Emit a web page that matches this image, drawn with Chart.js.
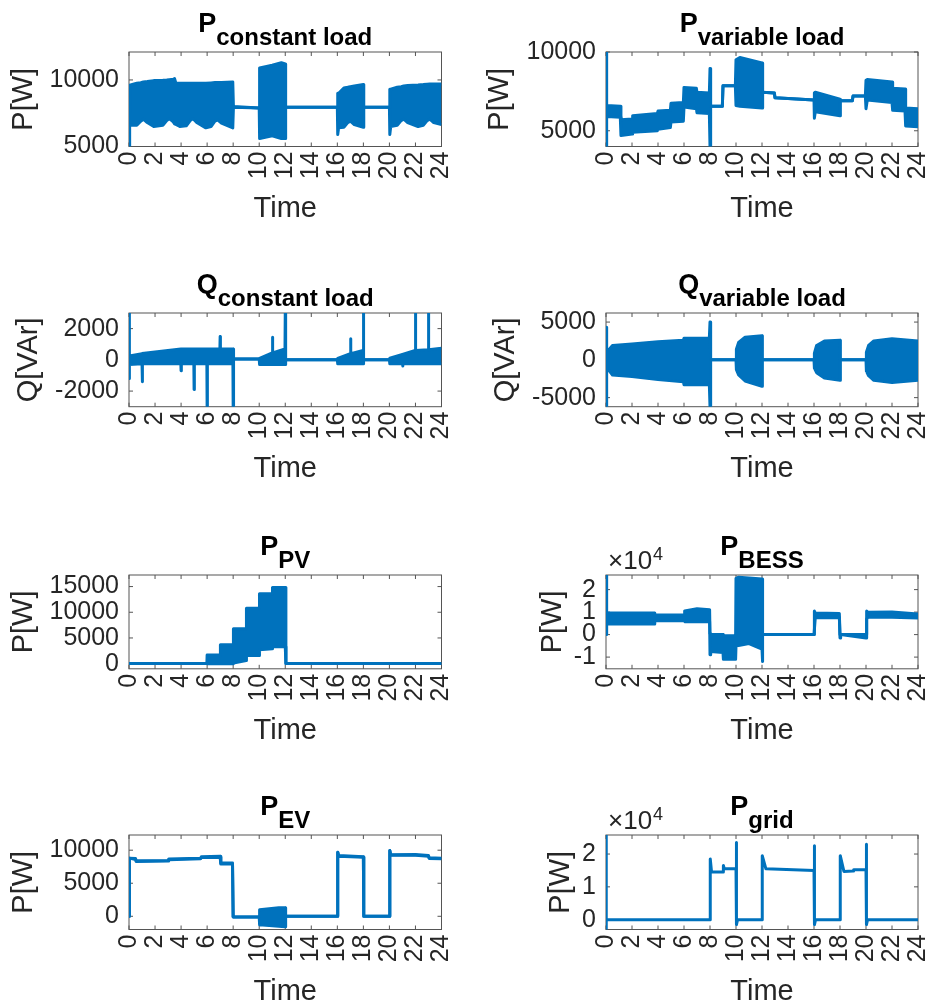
<!DOCTYPE html>
<html lang="en">
<head>
    <meta charset="UTF-8">
    <title>Power profiles</title>
    <script src="https://cdn.jsdelivr.net/npm/chart.js"></script>
    <style>
        body { margin: 0; width: 932px; height: 1006px; overflow: hidden; background: #fff; position: relative; }
        canvas { position: absolute; }
    </style>
</head>
<body>
<canvas id="c1" width="466" height="261"></canvas>
<canvas id="c2" width="466" height="261"></canvas>
<canvas id="c3" width="466" height="261"></canvas>
<canvas id="c4" width="466" height="261"></canvas>
<canvas id="c5" width="466" height="261"></canvas>
<canvas id="c6" width="466" height="261"></canvas>
<canvas id="c7" width="466" height="261"></canvas>
<canvas id="c8" width="466" height="261"></canvas>
<script>
    // x axis (hours)
    const hourTicks = [0, 2, 4, 6, 8, 10, 12, 14, 16, 18, 20, 22, 24];

    // P constant load: upper / lower envelope of the signal [W]
    const pConstT  = [0, 0.05, 0.6, 0.9, 1.1, 1.4, 1.9, 2.6, 2.9, 3.1, 3.4, 3.5, 3.6, 3.9, 4.4, 4.7, 4.9, 5.2, 5.9, 6.3, 6.6, 6.8, 7.1, 7.97, 8.02, 10.0, 10.03, 11.0, 11.7, 12.0, 12.03, 16.0, 16.03, 16.1, 16.5, 16.8, 17.0, 17.3, 18.0, 18.03, 20.0, 20.03, 20.1, 20.6, 20.9, 21.1, 21.4, 22.2, 22.6, 22.9, 23.1, 23.4, 24.0];
    const pConstHi = [7500, 9600, 9750, 9800, 9850, 9880, 9950, 9980, 10000, 10020, 10050, 10100, 9750, 9750, 9750, 9750, 9750, 9750, 9750, 9780, 9800, 9800, 9800, 9850, 8000, 7900, 10900, 11100, 11300, 11200, 7950, 7950, 9000, 9000, 9400, 9450, 9500, 9550, 9650, 7950, 7950, 9300, 9300, 9450, 9500, 9550, 9580, 9620, 9650, 9680, 9700, 9700, 9700];
    const pConstLo = [5000, 6600, 6600, 6900, 7050, 6800, 6500, 6600, 6950, 7100, 6850, 6700, 6650, 6500, 6550, 6950, 7100, 6800, 6400, 6500, 6900, 7000, 6750, 6400, 7950, 7900, 5600, 5800, 5600, 5600, 7950, 7950, 5900, 6400, 6450, 6800, 6900, 6650, 6450, 7950, 7950, 5900, 6500, 6600, 6950, 7050, 6800, 6500, 6600, 6950, 7050, 6800, 6650];
    const pConstTicks = [5000, 10000];

    // P variable load [W]
    const pVarT  = [0, 0.05, 1.1, 1.15, 2.0, 2.05, 3.95, 4.0, 4.95, 5.0, 5.95, 6.0, 6.95, 7.0, 7.95, 8.0, 8.05, 8.95, 9.0, 9.95, 10.0, 10.3, 12.0, 12.05, 12.95, 13.0, 16.0, 16.03, 16.1, 18.0, 18.03, 18.95, 19.0, 19.95, 20.0, 20.1, 22.0, 22.05, 23.0, 23.05, 24.0];
    const pVarHi = [10000, 6600, 6550, 5700, 5750, 5950, 6100, 6250, 6300, 6750, 6800, 7750, 7700, 7450, 7400, 8950, 6550, 6550, 7850, 7850, 9500, 9650, 9300, 7450, 7400, 7100, 6950, 7400, 7450, 7000, 6900, 6900, 7200, 7200, 8200, 8250, 8100, 7700, 7650, 6450, 6400];
    const pVarLo = [4000, 5900, 5850, 4700, 4800, 4900, 5000, 5100, 5200, 5550, 5600, 6500, 6400, 6150, 6100, 4000, 6550, 6550, 7850, 7850, 6600, 6550, 6450, 7450, 7400, 7100, 6950, 5800, 6200, 5950, 6900, 6900, 7200, 7200, 6400, 6950, 6800, 6300, 6250, 5300, 5250];
    const pVarTicks = [5000, 10000];

    // Q constant load [VAr]
    const qConstT  = [0, 0.03, 1.0, 1.02, 1.04, 2.0, 3.98, 4.0, 4.02, 4.98, 5.0, 5.02, 5.98, 6.0, 6.02, 6.98, 7.0, 7.02, 7.98, 8.0, 8.03, 10.0, 10.03, 11.0, 11.02, 11.04, 11.98, 12.0, 12.03, 16.0, 16.03, 17.0, 17.02, 17.04, 17.98, 18.0, 18.03, 20.0, 20.03, 21.0, 21.02, 21.04, 21.98, 22.0, 22.02, 22.98, 23.0, 23.02, 24.0];
    const qConstHi = [3000, 250, 400, 400, 400, 500, 690, 700, 700, 700, 700, 700, 700, 700, 700, 700, 1500, 700, 700, 700, 50, 50, 100, 450, 1450, 450, 700, 3000, 0, 0, 100, 400, 1350, 400, 600, 3000, 0, 0, 100, 350, 350, 350, 600, 3000, 600, 650, 3000, 650, 750];
    const qConstLo = [-1200, -300, -250, -1400, -250, -250, -250, -700, -250, -250, -1900, -250, -250, -3000, -250, -250, -250, -250, -250, -3000, 50, 50, -300, -300, -300, -300, -300, -300, 0, 0, -250, -250, -250, -250, -250, -250, 0, 0, -250, -250, -400, -250, -250, -250, -250, -250, -250, -250, -250];
    const qConstTicks = [-2000, 0, 2000];

    // Q variable load [VAr]
    const qVarT  = [0, 0.05, 0.5, 2.0, 4.0, 5.95, 6.0, 7.95, 8.0, 8.05, 10.0, 10.03, 10.2, 10.7, 12.0, 12.03, 16.0, 16.03, 16.2, 16.8, 18.0, 18.03, 20.0, 20.03, 20.2, 20.6, 22.0, 24.0];
    const qVarHi = [4300, 1000, 1900, 2100, 2400, 2600, 2850, 2900, 5000, 0, 0, 1400, 2300, 3000, 3200, 0, 0, 900, 1900, 2500, 2600, 0, 0, 1000, 1900, 2500, 2800, 2500];
    const qVarLo = [-6200, -1000, -2000, -2200, -2600, -2900, -3300, -3300, -6200, 0, 0, -1300, -2000, -2800, -3500, 0, 0, -1100, -1700, -2400, -2700, 0, 0, -1500, -2100, -2700, -3000, -2700];
    const qVarTicks = [-5000, 0, 5000];

    // P PV [W]
    const pvT  = [0, 5.98, 6.0, 7.0, 7.02, 8.0, 8.02, 9.0, 9.02, 10.0, 10.02, 11.0, 11.02, 12.0, 12.05, 24.0];
    const pvHi = [50, 50, 1700, 1700, 3700, 3700, 6800, 6800, 10800, 10800, 13600, 13600, 14800, 14800, 50, 50];
    const pvLo = [50, 50, 0, 0, 0, 0, 100, 600, 1600, 1600, 2700, 2900, 3300, 3300, 50, 50];
    const pvTicks = [0, 5000, 10000, 15000];

    // P BESS [W]
    const bessT  = [0, 0.05, 3.7, 3.75, 6.0, 6.05, 7.0, 7.97, 8.0, 8.05, 9.0, 9.03, 9.97, 10.0, 10.2, 11.0, 12.0, 12.03, 12.06, 16.0, 16.03, 16.1, 17.95, 18.0, 18.05, 20.0, 20.05, 20.15, 22.0, 24.0];
    const bessHi = [26500, 9700, 9600, 8700, 8800, 10500, 11500, 11000, 500, 100, 0, -500, -500, 25000, 25500, 25200, 24700, 0, 0, 0, 10500, 9600, 9400, 0, 0, 0, 10500, 9900, 10000, 9200];
    const bessLo = [0, 4800, 4700, 6200, 6300, 5800, 5700, 5800, -9000, -7500, -8000, -11000, -11000, -5000, -4800, -4000, -6500, -12000, 0, 0, 0, 7500, 7600, -1500, 0, -1500, 7000, 7700, 7700, 7400];
    const bessTicks = [-10000, 0, 10000, 20000];

    // P EV [W]
    const evT  = [0, 0.03, 0.5, 0.55, 3.0, 3.05, 5.5, 5.55, 7.0, 7.05, 7.95, 8.0, 10.0, 10.03, 11.5, 12.0, 12.03, 16.0, 16.03, 16.1, 18.0, 18.03, 20.0, 20.03, 20.1, 22.0, 23.0, 23.05, 24.0];
    const evHi = [0, 8800, 8750, 8400, 8450, 8650, 8800, 9000, 9100, 8050, 8050, -100, -100, 1000, 1300, 1300, 0, 0, 9700, 9200, 9000, 0, 0, 9950, 9300, 9350, 9200, 8850, 8800];
    const evLo = [0, 8800, 8600, 8300, 8350, 8550, 8700, 8900, 8950, 7900, 7900, -100, -100, -1300, -1500, -1600, 0, 0, 9700, 9100, 8950, 0, 0, 9950, 9250, 9250, 9100, 8750, 8700];
    const evTicks = [0, 5000, 10000];

    // P grid [W]
    const gridT = [0, 0.01, 0.03, 8.0, 8.02, 8.12, 9.0, 9.03, 9.1, 10.0, 10.02, 10.05, 10.12, 12.0, 12.02, 12.3, 16.0, 16.02, 16.05, 16.12, 18.0, 18.02, 18.3, 19.0, 19.05, 20.0, 20.02, 20.05, 20.12, 24.0];
    const gridP = [-3000, 25800, 0, 0, 18500, 14500, 14500, 16500, 15500, 15500, 23500, -1500, 0, 0, 19500, 15500, 15000, 22500, -1500, 0, 0, 19500, 14700, 14800, 15200, 15300, 23000, -1500, 0, 0];
    const gridTicks = [0, 10000, 20000];

    const BLUE = '#0072BD';
    const INK = '#262626';
    const FONT = '"Liberation Sans", Arial, Helvetica, sans-serif';

    Chart.defaults.font.family = FONT;
    Chart.defaults.color = INK;

    // box, inward ticks, title with subscript, x10^4 exponent
    const matlabAxes = {
        id: 'matlabAxes',
        beforeDatasetsDraw(chart) {
            const ctx = chart.ctx;
            const a = chart.chartArea;
            const x = chart.scales.x;
            const y = chart.scales.y;
            ctx.save();
            ctx.strokeStyle = '#555';
            ctx.lineWidth = 1;
            ctx.strokeRect(a.left, a.top, a.right - a.left, a.bottom - a.top);
            ctx.beginPath();
            x.ticks.forEach(t => {
                const px = x.getPixelForValue(t.value);
                ctx.moveTo(px, a.bottom); ctx.lineTo(px, a.bottom - 4);
                ctx.moveTo(px, a.top); ctx.lineTo(px, a.top + 4);
            });
            y.ticks.forEach(t => {
                const py = y.getPixelForValue(t.value);
                ctx.moveTo(a.left, py); ctx.lineTo(a.left + 4, py);
                ctx.moveTo(a.right, py); ctx.lineTo(a.right - 4, py);
            });
            ctx.stroke();
            ctx.restore();
        },
        afterDraw(chart, args, opts) {
            const ctx = chart.ctx;
            const a = chart.chartArea;
            ctx.save();
            ctx.textAlign = 'left';
            ctx.textBaseline = 'alphabetic';
            ctx.fillStyle = '#000';
            const mainFont = 'bold 27px ' + FONT;
            const subFont = 'bold 24px ' + FONT;
            ctx.font = mainFont;
            const w1 = ctx.measureText(opts.main).width;
            ctx.font = subFont;
            const w2 = ctx.measureText(opts.sub).width;
            const x0 = (a.left + a.right) / 2 - (w1 + w2) / 2;
            ctx.font = mainFont;
            ctx.fillText(opts.main, x0, a.top - 20);
            ctx.font = subFont;
            ctx.fillText(opts.sub, x0 + w1, a.top - 7.5);
            if (opts.expo) {
                ctx.fillStyle = INK;
                ctx.font = '26px ' + FONT;
                ctx.fillText('\u00d710', a.left + 2, a.top - 6);
                const w = ctx.measureText('\u00d710').width;
                ctx.font = '18px ' + FONT;
                ctx.fillText('4', a.left + 3 + w, a.top - 15);
            }
            ctx.restore();
        }
    };

    function series(t, hi, lo) {
        const line = { borderColor: BLUE, borderWidth: 3, pointRadius: 0, tension: 0, borderJoinStyle: 'round' };
        const sets = [Object.assign({ data: t.map((v, i) => ({ x: v, y: hi[i] })), fill: false }, line)];
        if (lo) {
            sets.push(Object.assign({ data: t.map((v, i) => ({ x: v, y: lo[i] })), fill: '-1', backgroundColor: BLUE }, line));
        }
        return sets;
    }

    const X_H = 76.5;   // x axis block height (ticks + "Time")

    function makePanel(id, p) {
        const W = 466, H = 261;
        const cx = p.col * 466;
        const cy = p.T - 52;
        const canvas = document.getElementById(id);
        canvas.style.left = cx + 'px';
        canvas.style.top = cy + 'px';

        new Chart(canvas, {
            type: 'line',
            data: { datasets: p.sets },
            options: {
                responsive: false,
                animation: false,
                devicePixelRatio: 1,
                events: [],
                layout: {
                    padding: { left: 0, top: p.T - cy, right: cx + W - p.R, bottom: cy + H - p.B - X_H }
                },
                plugins: {
                    legend: { display: false },
                    tooltip: { enabled: false },
                    matlabAxes: { main: p.main, sub: p.sub, expo: p.expo }
                },
                scales: {
                    x: {
                        type: 'linear',
                        min: 0,
                        max: 24,
                        grid: { display: false, drawTicks: false },
                        border: { display: false },
                        afterBuildTicks: s => { s.ticks = hourTicks.map(v => ({ value: v })); },
                        afterFit: s => { s.height = X_H; s.paddingLeft = 0; s.paddingRight = 0; },
                        ticks: { autoSkip: false, minRotation: 90, maxRotation: 90, padding: 5, color: INK, font: { size: 25 } },
                        title: { display: true, text: 'Time', color: INK, padding: 0, font: { size: 29, lineHeight: 1 } }
                    },
                    y: {
                        min: p.min,
                        max: p.max,
                        grid: { display: false, drawTicks: false },
                        border: { display: false },
                        afterBuildTicks: s => { s.ticks = p.ticks.map(v => ({ value: v })); },
                        afterFit: s => { s.width = p.L - cx; s.paddingTop = 0; s.paddingBottom = 0; },
                        ticks: {
                            autoSkip: false,
                            padding: 10, color: INK, font: { size: 25 },
                            callback: v => p.expo ? String(v / 10000) : String(v)
                        },
                        title: {
                            display: true, text: p.ylabel, color: INK,
                            padding: { top: p.yTitleX - cx - 14.5, bottom: 0 },
                            font: { size: 29, lineHeight: 1 }
                        }
                    }
                }
            },
            plugins: [matlabAxes]
        });
    }

    makePanel('c1', { col: 0, L: 129, R: 441.5, T: 52, B: 146.5, yTitleX: 23.5, main: 'P', sub: 'constant load', ylabel: 'P[W]', min: 5000, max: 12100, ticks: pConstTicks, sets: series(pConstT, pConstHi, pConstLo) });
    makePanel('c2', { col: 1, L: 606, R: 918, T: 52, B: 146.5, yTitleX: 499.5, main: 'P', sub: 'variable load', ylabel: 'P[W]', min: 4000, max: 10000, ticks: pVarTicks, sets: series(pVarT, pVarHi, pVarLo) });
    makePanel('c3', { col: 0, L: 129, R: 441.5, T: 313.3, B: 407, yTitleX: 29, main: 'Q', sub: 'constant load', ylabel: 'Q[VAr]', min: -3000, max: 3000, ticks: qConstTicks, sets: series(qConstT, qConstHi, qConstLo) });
    makePanel('c4', { col: 1, L: 606, R: 918, T: 313.3, B: 407, yTitleX: 506, main: 'Q', sub: 'variable load', ylabel: 'Q[VAr]', min: -6200, max: 6200, ticks: qVarTicks, sets: series(qVarT, qVarHi, qVarLo) });
    makePanel('c5', { col: 0, L: 129, R: 441.5, T: 574.5, B: 668.3, yTitleX: 24, main: 'P', sub: 'PV', ylabel: 'P[W]', min: -1000, max: 17250, ticks: pvTicks, sets: series(pvT, pvHi, pvLo) });
    makePanel('c6', { col: 1, L: 606, R: 918, T: 574.5, B: 668.3, yTitleX: 553, main: 'P', sub: 'BESS', ylabel: 'P[W]', min: -15200, max: 26500, ticks: bessTicks, expo: true, sets: series(bessT, bessHi, bessLo) });
    makePanel('c7', { col: 0, L: 129, R: 441.5, T: 834.5, B: 929, yTitleX: 24, main: 'P', sub: 'EV', ylabel: 'P[W]', min: -2000, max: 12300, ticks: evTicks, sets: series(evT, evHi, evLo) });
    makePanel('c8', { col: 1, L: 606, R: 918, T: 834.5, B: 929, yTitleX: 561, main: 'P', sub: 'grid', ylabel: 'P[W]', min: -3000, max: 25800, ticks: gridTicks, expo: true, sets: series(gridT, gridP) });
</script>
</body>
</html>
